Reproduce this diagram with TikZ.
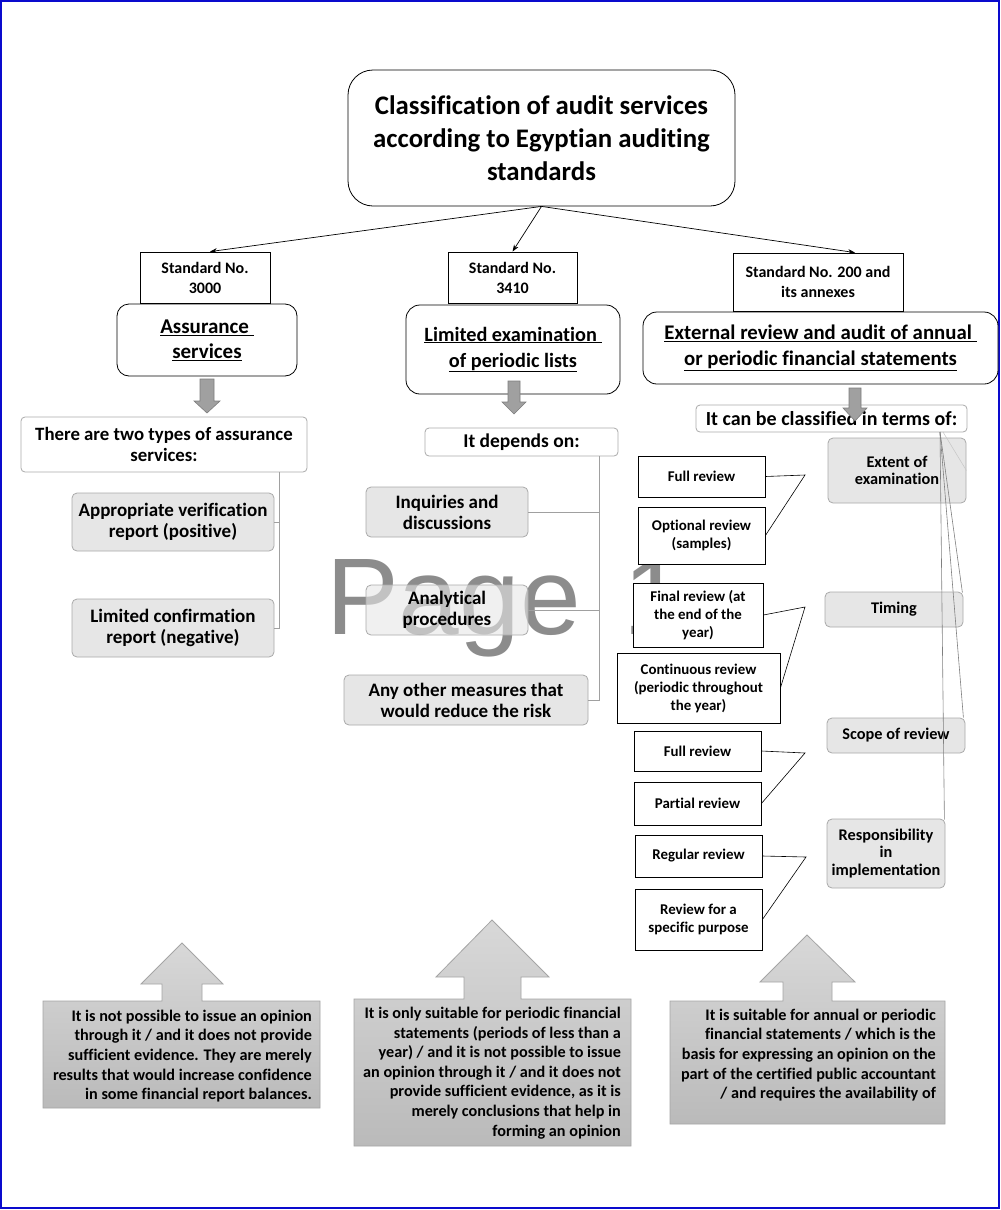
\documentclass[tikz,border=0pt]{standalone}
\usepackage{fontspec}
\setmainfont{Carlito}[Ligatures=NoCommon]
\newfontfamily\wmfont{Liberation Sans}
\usetikzlibrary{calc,arrows.meta}
\definecolor{frameblue}{RGB}{10,10,205}
\definecolor{linegray}{RGB}{160,160,160}
\definecolor{boxedge}{RGB}{170,170,170}
\definecolor{subfill}{RGB}{230,230,230}
\definecolor{arrowfill}{RGB}{160,160,160}
\definecolor{arrowedge}{RGB}{125,125,125}
\definecolor{calltop}{RGB}{216,216,216}
\definecolor{callbot}{RGB}{186,186,186}
\definecolor{calledge}{RGB}{165,165,165}
\definecolor{wmgray}{RGB}{140,140,140}
\newcommand\fs[2]{\fontsize{#1}{#2}\selectfont\bfseries}
\newcommand\boxat[7]{\node[#1, minimum width={#5pt-#3pt}, minimum height={#6pt-#4pt}] (#2) at ({(#3+#5)/2},{(#4+#6)/2}) {#7};}
\tikzset{
 stdbox/.style={draw=black, line width=0.8pt, fill=white, align=center, inner sep=1pt, font=\fs{16}{20}},
 mainbox/.style={draw=black, line width=0.8pt, fill=white, rounded corners=14pt, align=center, inner sep=1pt, font=\fs{20.8}{26}},
 headbox/.style={draw=boxedge, line width=0.8pt, fill=white, rounded corners=4pt, align=center, inner sep=1pt},
 subbox/.style={draw=boxedge, line width=0.8pt, fill=subfill, rounded corners=5pt, align=center, inner sep=1pt, font=\fs{19}{21}},
 rightbox/.style={draw=boxedge, line width=0.8pt, fill=subfill, rounded corners=5pt, align=center, inner sep=1pt, font=\fs{16.3}{17.5}},
 itembox/.style={draw=black, line width=0.8pt, fill=white, align=center, inner sep=1pt, font=\fs{14.9}{18}},
 conn/.style={draw=linegray, line width=0.8pt},
 thinconn/.style={draw=gray, line width=0.6pt},
 brk/.style={draw=black, line width=0.6pt},
 arr/.style={draw=black, line width=0.7pt, -{Stealth[length=7pt,width=5pt]}},
 blockarrow/.style={fill=arrowfill, draw=arrowedge, line width=0.6pt},
 callout/.style={top color=calltop, bottom color=callbot, draw=calledge, line width=0.8pt},
 calltext/.style={align=right, inner sep=0pt, font=\fs{16.2}{19.6}},
}
\begin{document}
\begin{tikzpicture}[x=1pt,y=-1pt]
\useasboundingbox (0,0) rectangle (1001,1210);
\fill[white] (0,0) rectangle (1001,1210);
\draw[frameblue, line width=2pt] (1,1) rectangle (999,1208);

% watermark
\node[anchor=base west, inner sep=0pt, text=wmgray, font=\wmfont\fontsize{109}{109}\selectfont] (wm) at (326,634) {Page\hspace{13pt} 1};

% title
\boxat{mainbox, rounded corners=25pt, font=\fs{26.8}{33}}{title}{348}{70}{735}{206}{Classification of audit services\\according to Egyptian auditing\\standards}

% standards
\boxat{stdbox}{std1}{140}{252}{270}{303}{Standard No.\\3000}
\boxat{stdbox}{std2}{448}{252}{577}{303}{Standard No.\\3410}
\boxat{stdbox}{std3}{733}{253}{903}{311}{Standard No. 200 and\\its annexes}

\draw[arr] (title.south) -- ($(std1.north)+(5,0)$);
\draw[arr] (title.south) -- ($(std2.north)+(0,0)$);
\draw[arr] (title.south) -- ($(std3.north)+(37,0)$);

% main category boxes
\boxat{mainbox, rounded corners=12pt, font=\fs{21}{25}}{asr}{117}{304}{297}{376}{\underline{Assurance\ }\\\underline{services}}
\boxat{mainbox, font=\fs{20.3}{26}}{lim}{406}{305}{620}{394}{\underline{Limited\ examination\ }\\\underline{of\ periodic\ lists}}
\boxat{mainbox}{ext}{643}{312}{998}{384}{\underline{External\ review and audit of annual\ }\\\underline{or\ periodic\ financial\ statements}}

% heading boxes
\boxat{headbox, font=\fs{18.8}{21}}{two}{21}{417}{307}{472}{There are two types of assurance\\services:}
\boxat{headbox, font=\fs{19.5}{21}}{dep}{425}{428}{618}{456}{It depends on:}
\boxat{headbox, font=\fs{20}{22}}{cls}{696}{405}{967}{432}{It can be classified in terms of:}

% down block arrows
\draw[blockarrow] (200,379) -- (214,379) -- (214,401) -- (220,401) -- (207,413) -- (194,401) -- (200,401) -- cycle;
\draw[blockarrow] (508,381) -- (520,381) -- (520,402) -- (526,402) -- (514,414) -- (502,402) -- (508,402) -- cycle;
\draw[blockarrow] (849,388) -- (861,388) -- (861,408) -- (867,408) -- (855,421) -- (843,408) -- (849,408) -- cycle;

% left column
\boxat{subbox}{pos}{72}{493}{274}{551}{Appropriate verification\\report (positive)}
\boxat{subbox}{neg}{72}{599}{274}{657}{Limited confirmation\\report (negative)}
\coordinate (lv) at (279,0);
\draw[conn] (two.south -| lv) -- (neg.east -| lv) -- (neg.east);
\draw[conn] (pos.east) -- (pos.east -| lv);

% middle column
\boxat{subbox}{inq}{366}{487}{528}{537}{Inquiries and\\discussions}
\boxat{subbox, fill opacity=0.6, text opacity=1}{ana}{366}{585}{528}{635}{Analytical\\procedures}
\boxat{subbox}{oth}{344}{675}{588}{725}{Any other measures that\\would reduce the risk}
\coordinate (mv) at (599,0);
\draw[conn] (dep.south -| mv) -- (oth.east -| mv) -- (oth.east);
\draw[conn] (inq.east) -- (inq.east -| mv);
\draw[conn] (ana.east) -- (ana.east -| mv);

% right column criteria
\boxat{rightbox}{extent}{828}{438}{966}{503}{Extent of\\examination}
\boxat{rightbox}{timing}{825}{592}{963}{627}{Timing}
\boxat{rightbox}{scope}{827}{718}{965}{753}{Scope of review}
\boxat{rightbox}{resp}{827}{819}{945}{888}{Responsibility\\in\\implementation}

\coordinate (cs) at (940,432);
\draw[draw=linegray!60, line width=0.5pt] ($(cs)+(3,0)$) -- (extent.east);
\draw[thinconn] (cs) -- ($(timing.north east)+(-1,1)$);
\draw[thinconn] (cs) -- ($(scope.north east)+(-2,0)$);
\draw[thinconn] (cs) -- ($(resp.north east)+(-1,1)$);

% right column items
\boxat{itembox}{full1}{638}{456}{765}{497}{Full review}
\boxat{itembox}{opt}{638}{507}{765}{564}{Optional review\\(samples)}
\boxat{itembox}{fin}{633}{583}{763}{647}{Final review (at\\the end of the\\year)}
\boxat{itembox}{cont}{617}{653}{780}{723}{Continuous review\\(periodic throughout\\the year)}
\boxat{itembox}{full2}{634}{731}{761}{771}{Full review}
\boxat{itembox}{part}{634}{782}{761}{825}{Partial review}
\boxat{itembox}{reg}{635}{835}{762}{877}{Regular review}
\boxat{itembox}{spec}{635}{889}{762}{950}{Review for a\\specific purpose}

\coordinate (b1) at (805,475);
\coordinate (b2) at (805,607);
\coordinate (b3) at (805,753);
\coordinate (b4) at (806,857);
\draw[brk] (full1.east) -- (b1) -- (opt.east);
\draw[brk] (fin.east) -- (b2) -- (cont.east);
\draw[brk] (full2.east) -- (b3) -- (part.east);
\draw[brk] (reg.east) -- (b4) -- (spec.east);

% bottom callouts
\path[callout] (43,1108) -- (43,1001) -- (162,1001) -- (162,984) -- (141,984) -- (182,943) -- (223,984) -- (202,984) -- (202,1001) -- (320,1001) -- (320,1108) -- cycle;
\path[callout] (354,1146) -- (354,999) -- (464,999) -- (464,977) -- (436,977) -- (492,920) -- (549,977) -- (521,977) -- (521,999) -- (631,999) -- (631,1146) -- cycle;
\path[callout] (670,1124) -- (670,1001) -- (783,1001) -- (783,982) -- (760,982) -- (807,935) -- (855,982) -- (832,982) -- (832,1001) -- (945,1001) -- (945,1124) -- cycle;

\node[calltext, anchor=east] (c1) at (312,1056) {It is not possible to issue an opinion\\through it / and it does not provide\\sufficient evidence. They are merely\\results that would increase confidence\\in some financial report balances.};
\node[calltext, anchor=east] (c2) at (621,1073) {It is only suitable for periodic financial\\statements (periods of less than a\\year) / and it is not possible to issue\\an opinion through it / and it does not\\provide sufficient evidence, as it is\\merely conclusions that help in\\forming an opinion};
\node[calltext, anchor=east] (c3) at (936,1055) {It is suitable for annual or periodic\\financial statements / which is the\\basis for expressing an opinion on the\\part of the certified public accountant\\/ and requires the availability of};
\end{tikzpicture}
\end{document}
